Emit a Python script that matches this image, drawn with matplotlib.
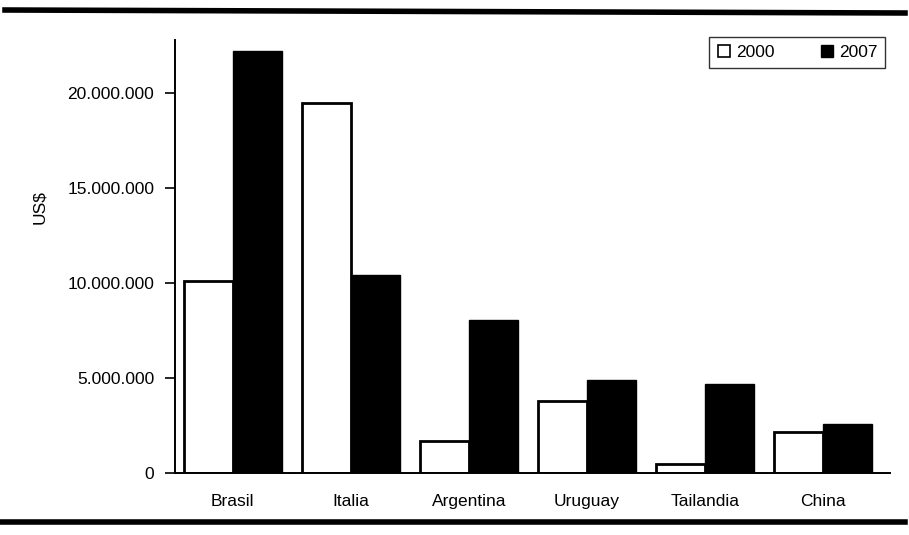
import matplotlib
matplotlib.use("Agg")
import matplotlib.pyplot as plt
from matplotlib.lines import Line2D
from matplotlib.ticker import FuncFormatter
from matplotlib import font_manager
import numpy as np

categories = ["Brasil", "Italia", "Argentina", "Uruguay", "Tailandia", "China"]
values_2000 = [10100000, 19500000, 1700000, 3800000, 450000, 2150000]
values_2007 = [22200000, 10450000, 8050000, 4900000, 4700000, 2600000]
series_labels = ["2000", "2007"]
yticks = [0, 5000000, 10000000, 15000000, 20000000]

names = {f.name for f in font_manager.fontManager.ttflist}
if 'Liberation Sans Narrow' in names:
    plt.rcParams['font.family'] = ['Liberation Sans Narrow', 'DejaVu Sans']
    fs = 15
else:
    plt.rcParams['font.family'] = ['Liberation Sans', 'DejaVu Sans']
    fs = 12.5

fig = plt.figure(figsize=(9.09, 5.35), dpi=100)
ax = fig.add_axes([175/909, 1-473/535, (890-175)/909, (473-40)/535])

x = np.arange(len(categories))
w = 0.415
ax.bar(x - w/2, values_2000, w, color='white', edgecolor='black', linewidth=2.0, zorder=2)
ax.bar(x + w/2, values_2007, w, color='black', edgecolor='black', linewidth=1.0, zorder=2)

ax.set_xlim(-0.49, 5.57)
ax.set_ylim(0, 22800000)
ax.set_yticks(yticks)
ax.yaxis.set_major_formatter(FuncFormatter(lambda v, p: f"{int(v):,}".replace(",", ".")))
ax.set_xticks(x)
ax.set_xticklabels(categories)
ax.tick_params(axis='x', length=0, pad=15, labelsize=fs)
ax.tick_params(axis='y', direction='out', length=7, width=1.2, labelsize=fs, pad=8)

for s in ['top', 'right']:
    ax.spines[s].set_visible(False)
ax.spines['left'].set_linewidth(1.4)
ax.spines['bottom'].set_linewidth(1.4)

fig.text(40/909, 1-207/535, "US$", rotation=90, ha='center', va='center', fontsize=fs)

handles = [Line2D([], [], marker='s', linestyle='none', markerfacecolor='white',
                  markeredgecolor='black', markersize=8, markeredgewidth=1.2),
           Line2D([], [], marker='s', linestyle='none', markerfacecolor='black',
                  markeredgecolor='black', markersize=8)]
leg = ax.legend(handles, series_labels, loc='upper right', bbox_to_anchor=(885/909, 1-37/535),
                bbox_transform=fig.transFigure, ncol=2, frameon=True, fancybox=False,
                fontsize=fs, handlelength=0.8, handletextpad=0.3, columnspacing=2.6,
                borderpad=0.45, borderaxespad=0)
leg.get_frame().set_edgecolor('black')
leg.get_frame().set_linewidth(1.0)

# thick rules top and bottom
fig.add_artist(Line2D([5/909, 905/909], [1-10/535, 1-13/535], transform=fig.transFigure,
                      color='black', linewidth=4))
fig.add_artist(Line2D([0, 905/909], [1-522/535, 1-522/535], transform=fig.transFigure,
                      color='black', linewidth=4))

fig.savefig("out.png", dpi=100)
